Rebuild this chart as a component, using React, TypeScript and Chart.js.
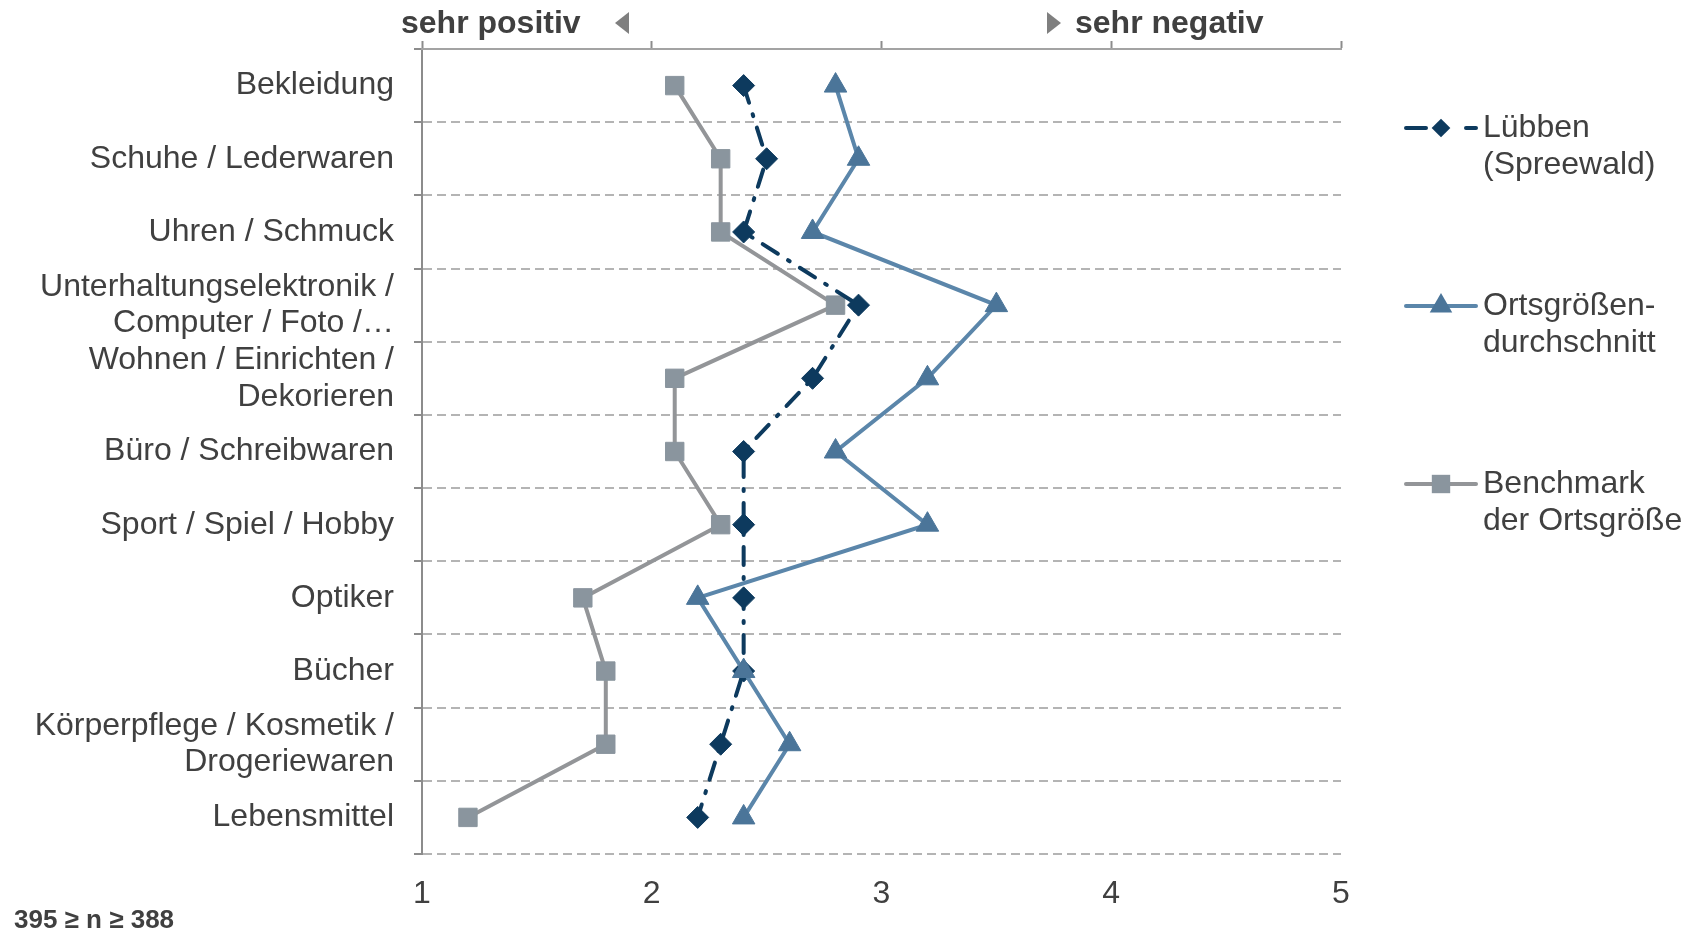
import React, { useEffect, useRef } from "react";
import { Chart, registerables } from "chart.js";

Chart.register(...registerables);

const categories: (string | string[])[] = [
  "Bekleidung",
  "Schuhe / Lederwaren",
  "Uhren / Schmuck",
  ["Unterhaltungselektronik /", "Computer / Foto /…"],
  ["Wohnen / Einrichten /", "Dekorieren"],
  "Büro / Schreibwaren",
  "Sport / Spiel / Hobby",
  "Optiker",
  "Bücher",
  ["Körperpflege / Kosmetik /", "Drogeriewaren"],
  "Lebensmittel",
];

const luebben = [2.4, 2.5, 2.4, 2.9, 2.7, 2.4, 2.4, 2.4, 2.4, 2.3, 2.2];
const ortsgroesse = [2.8, 2.9, 2.7, 3.5, 3.2, 2.8, 3.2, 2.2, 2.4, 2.6, 2.4];
const benchmark = [2.1, 2.3, 2.3, 2.8, 2.1, 2.1, 2.3, 1.7, 1.8, 1.8, 1.2];

const xMin = 1;
const xMax = 5;
const xStep = 1;

const seriesNames: string[][] = [
  ["Lübben", "(Spreewald)"],
  ["Ortsgrößen-", "durchschnitt"],
  ["Benchmark", "der Ortsgröße"],
];
const headerLeft = "sehr positiv";
const headerRight = "sehr negativ";
const footnote = "395 ≥ n ≥ 388";

const FONT = "'Liberation Sans', Arial, sans-serif";
const TEXT = "#404040";
const C_LUEB = "#0d3a5e";
const C_ORTS_LINE = "#5b86aa";
const C_ORTS_PT = "#4b7599";
const C_BENCH_LINE = "#939598";
const C_BENCH_PT = "#8a959e";
const LUEB_DASH = [18, 12, 2, 12];

const overlayPlugin = {
  id: "overlay",
  afterDraw(chart: any) {
    const ctx: CanvasRenderingContext2D = chart.ctx;
    ctx.save();
    // header
    ctx.fillStyle = TEXT;
    ctx.font = `bold 32px ${FONT}`;
    ctx.textBaseline = "middle";
    ctx.textAlign = "left";
    ctx.fillText(headerLeft, 401, 24);
    ctx.fillText(headerRight, 1075, 24);
    ctx.fillStyle = "#7f7f7f";
    ctx.beginPath();
    ctx.moveTo(615, 23);
    ctx.lineTo(629, 12);
    ctx.lineTo(629, 34);
    ctx.closePath();
    ctx.fill();
    ctx.beginPath();
    ctx.moveTo(1061, 23);
    ctx.lineTo(1047, 12);
    ctx.lineTo(1047, 34);
    ctx.closePath();
    ctx.fill();

    // footnote
    ctx.fillStyle = TEXT;
    ctx.font = `bold 26px ${FONT}`;
    ctx.fillText(footnote, 14, 921);

    // legend
    const legendY = [128, 306, 484];
    const lx0 = 1406;
    const lx1 = 1476;
    const mx = 1441;
    const tx = 1483;
    ctx.font = `32px ${FONT}`;
    ctx.lineCap = "round";
    chart.data.datasets.forEach((ds: any, i: number) => {
      const y = legendY[i];
      ctx.strokeStyle = ds.borderColor;
      ctx.lineWidth = ds.borderWidth;
      if (i === 0) {
        ctx.beginPath();
        ctx.moveTo(lx0, y);
        ctx.lineTo(lx0 + 20, y);
        ctx.moveTo(lx1 - 10, y);
        ctx.lineTo(lx1, y);
        ctx.stroke();
      } else {
        ctx.beginPath();
        ctx.moveTo(lx0, y);
        ctx.lineTo(lx1, y);
        ctx.stroke();
      }
      ctx.fillStyle = ds.pointBackgroundColor;
      const st = ds.pointStyle;
      const r = ds.pointRadius;
      ctx.beginPath();
      if (st === "rectRot") {
        const rr = r * 0.85;
        ctx.moveTo(mx - rr, y);
        ctx.lineTo(mx, y - rr);
        ctx.lineTo(mx + rr, y);
        ctx.lineTo(mx, y + rr);
      } else if (st === "triangle") {
        const h = r * 1.5;
        const w = r * 0.866;
        ctx.moveTo(mx, y - r);
        ctx.lineTo(mx + w, y - r + h);
        ctx.lineTo(mx - w, y - r + h);
      } else {
        const s = r * 0.707;
        ctx.rect(mx - s, y - s, 2 * s, 2 * s);
      }
      ctx.closePath();
      ctx.fill();
      ctx.fillStyle = TEXT;
      ctx.textAlign = "left";
      ctx.textBaseline = "middle";
      seriesNames[i].forEach((line, k) => {
        ctx.fillText(line, tx, y + k * 37);
      });
    });
    ctx.restore();
  },
};

export default function App() {
  const ref = useRef<HTMLCanvasElement | null>(null);
  useEffect(() => {
    if (!ref.current) return;
    const chart = new Chart(ref.current, {
      type: "line",
      data: {
        labels: categories as any,
        datasets: [
          {
            label: seriesNames[0].join(" "),
            data: luebben,
            borderColor: C_LUEB,
            backgroundColor: C_LUEB,
            borderWidth: 4,
            borderDash: LUEB_DASH,
            borderCapStyle: "round",
            pointStyle: "rectRot",
            pointRadius: 11,
            pointBackgroundColor: C_LUEB,
            pointBorderColor: C_LUEB,
            pointBorderWidth: 1,
            xAxisID: "x",
            yAxisID: "y",
            order: 2,
          },
          {
            label: seriesNames[1].join(" "),
            data: ortsgroesse,
            borderColor: C_ORTS_LINE,
            backgroundColor: C_ORTS_PT,
            borderWidth: 4,
            pointStyle: "triangle",
            pointRadius: 13,
            pointBackgroundColor: C_ORTS_PT,
            pointBorderColor: C_ORTS_PT,
            pointBorderWidth: 1,
            xAxisID: "x",
            yAxisID: "y",
            order: 1,
          },
          {
            label: seriesNames[2].join(" "),
            data: benchmark,
            borderColor: C_BENCH_LINE,
            backgroundColor: C_BENCH_PT,
            borderWidth: 4,
            pointStyle: "rect",
            pointRadius: 13,
            pointBackgroundColor: C_BENCH_PT,
            pointBorderColor: C_BENCH_PT,
            pointBorderWidth: 1,
            xAxisID: "x",
            yAxisID: "y",
            order: 3,
          },
        ] as any,
      },
      options: {
        indexAxis: "y",
        animation: false,
        responsive: true,
        maintainAspectRatio: false,
        layout: { padding: { left: 0, right: 355, top: 0, bottom: 0 } },
        plugins: {
          legend: { display: false },
          tooltip: { enabled: false },
        },
        scales: {
          y: {
            type: "category",
            position: "left",
            offset: true,
            grid: {
              offset: true,
              color: "#b4b4b4",
              lineWidth: 2,
              drawTicks: true,
              tickLength: 8,
              tickColor: "#8c8c8c",
              tickWidth: 2,
            },
            border: { display: true, color: "#8c8c8c", width: 2, dash: [9, 5] },
            ticks: {
              color: TEXT,
              padding: 20,
              autoSkip: false,
              font: { family: FONT, size: 32, lineHeight: 1.15 },
            },
            afterFit: (s: any) => {
              s.width = 422;
            },
          },
          x: {
            type: "linear",
            position: "bottom",
            min: xMin,
            max: xMax,
            grid: { display: false, drawTicks: false },
            border: { display: false },
            ticks: {
              stepSize: xStep,
              color: TEXT,
              padding: 21,
              font: { family: FONT, size: 32 },
            },
            afterFit: (s: any) => {
              s.height = 77;
            },
          },
          x2: {
            type: "linear",
            position: "top",
            min: xMin,
            max: xMax,
            grid: {
              display: true,
              drawOnChartArea: false,
              drawTicks: true,
              tickLength: 8,
              tickColor: "#8c8c8c",
              tickWidth: 2,
              color: "#8c8c8c",
            },
            border: { display: true, color: "#a3a3a3", width: 2 },
            ticks: { stepSize: xStep, display: false },
            afterFit: (s: any) => {
              s.height = 49;
            },
          },
        },
      } as any,
      plugins: [overlayPlugin],
    });
    return () => chart.destroy();
  }, []);
  return (
    <div style={{ position: "fixed", left: 0, top: 0, width: 1696, height: 931, background: "#fff" }}>
      <canvas ref={ref} />
    </div>
  );
}
